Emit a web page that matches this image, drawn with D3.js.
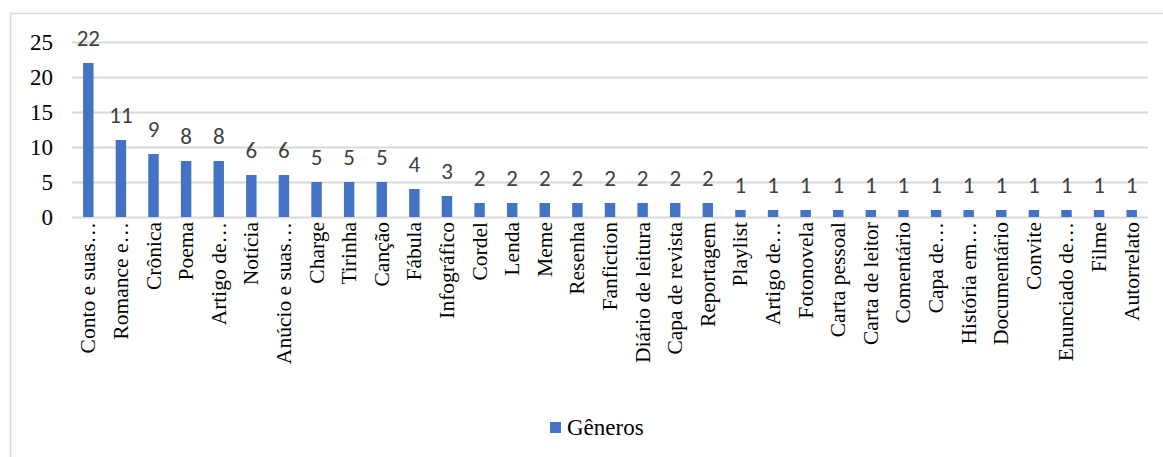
<!DOCTYPE html>
<html>
<head>
<meta charset="utf-8">
<script src="https://cdn.jsdelivr.net/npm/d3@7"></script>
<style>
  body { margin: 0; background: #fff; }
  svg { display: block; }
</style>
</head>
<body>
<div id="chart"></div>
<script>
// data
var categories = ["Conto e suas…", "Romance e…", "Crônica", "Poema", "Artigo de…", "Notícia",
  "Anúcio e suas…", "Charge", "Tirinha", "Canção", "Fábula", "Infográfico", "Cordel", "Lenda",
  "Meme", "Resenha", "Fanfiction", "Diário de leitura", "Capa de revista", "Reportagem",
  "Playlist", "Artigo de…", "Fotonovela", "Carta pessoal", "Carta de leitor", "Comentário",
  "Capa de…", "História em…", "Documentário", "Convite", "Enunciado de…", "Filme", "Autorrelato"];
var values = [22, 11, 9, 8, 8, 6, 6, 5, 5, 5, 4, 3, 2, 2, 2, 2, 2, 2, 2, 2,
  1, 1, 1, 1, 1, 1, 1, 1, 1, 1, 1, 1, 1];
var yTicks = [0, 5, 10, 15, 20, 25];
var seriesName = "Gêneros";

var width = 1163, height = 457;
var barColor = "#4472C4";
var gridColor = "#d9d9d9";
var serif = "'Liberation Serif', 'Times New Roman', serif";
var sans = "Carlito, 'Open Sans', Lato, sans-serif";

var plot = { left: 72, right: 1148, top: 42, bottom: 217 };

var svg = d3.select("#chart").append("svg")
  .attr("width", width)
  .attr("height", height);

// chart frame (only left/top visible in the crop)
svg.append("rect")
  .attr("x", 10.5).attr("y", 13.5)
  .attr("width", width + 20).attr("height", height + 20)
  .attr("fill", "none")
  .attr("stroke", gridColor)
  .attr("stroke-width", 1.5);

var x = d3.scaleBand()
  .domain(d3.range(categories.length))
  .range([plot.left, plot.right])
  .paddingInner(0.68)
  .paddingOuter(0.34);

var y = d3.scaleLinear()
  .domain([0, 25])
  .range([plot.bottom, plot.top]);

// gridlines
svg.append("g").selectAll("line")
  .data(yTicks)
  .enter().append("line")
  .attr("x1", plot.left).attr("x2", plot.right)
  .attr("y1", function(d) { return Math.round(y(d)) + 0.5; })
  .attr("y2", function(d) { return Math.round(y(d)) + 0.5; })
  .attr("stroke", gridColor)
  .attr("stroke-width", 2);

// y axis labels
svg.append("g").selectAll("text")
  .data(yTicks)
  .enter().append("text")
  .attr("x", 53)
  .attr("y", function(d) { return y(d) + 8; })
  .attr("text-anchor", "end")
  .style("font-family", serif)
  .style("font-size", "23px")
  .style("fill", "#000")
  .text(function(d) { return d; });

// bars
svg.append("g").selectAll("rect")
  .data(values)
  .enter().append("rect")
  .attr("x", function(d, i) { return x(i); })
  .attr("width", x.bandwidth())
  .attr("y", function(d) { return y(d); })
  .attr("height", function(d) { return y(0) - y(d); })
  .attr("fill", barColor);

// value labels
svg.append("g").selectAll("text")
  .data(values)
  .enter().append("text")
  .attr("x", function(d, i) { return x(i) + x.bandwidth() / 2; })
  .attr("y", function(d) { return y(d) - 17; })
  .attr("text-anchor", "middle")
  .style("font-family", sans)
  .style("font-size", "23px")
  .style("fill", "#404040")
  .text(function(d) { return d; });

// category labels, rotated
svg.append("g").selectAll("text")
  .data(categories)
  .enter().append("text")
  .attr("transform", function(d, i) {
    return "translate(" + (x(i) + x.bandwidth() / 2 + 7) + "," + 222 + ") rotate(-90)";
  })
  .attr("text-anchor", "end")
  .style("font-family", serif)
  .style("font-size", "21.5px")
  .style("fill", "#000")
  .text(function(d) { return d; });

// legend
var legend = svg.append("g").attr("transform", "translate(550,422)");
legend.append("rect")
  .attr("width", 11).attr("height", 11)
  .attr("fill", barColor);
legend.append("text")
  .attr("x", 17).attr("y", 13)
  .style("font-family", serif)
  .style("font-size", "23px")
  .style("fill", "#000")
  .text(seriesName);
</script>
</body>
</html>
